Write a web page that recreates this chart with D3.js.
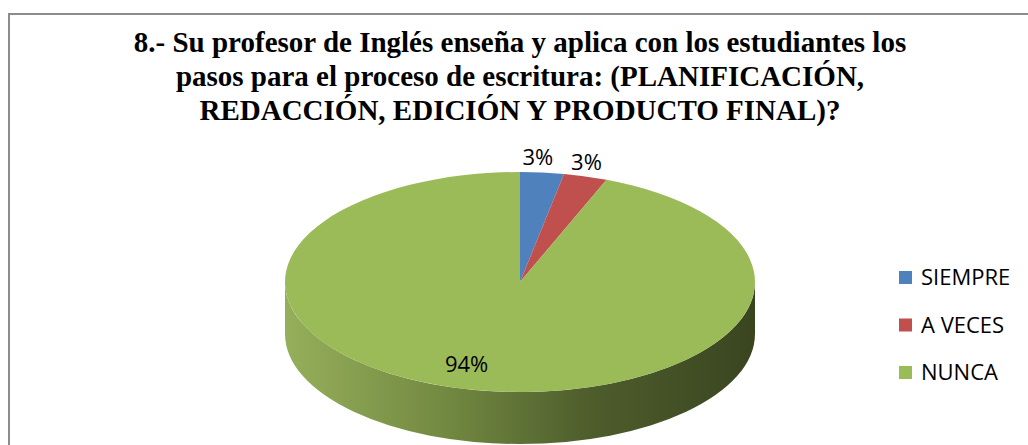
<!DOCTYPE html>
<meta charset="utf-8">
<head>
  <title>Pie 3D</title>
</head>
<style>
body { margin: 0; background: #fff; }
.title { font-family: "Liberation Serif", "Times New Roman", serif; font-weight: bold; font-size: 29px; fill: #000; }
.lbl { font-family: "Open Sans", "Noto Sans", sans-serif; font-size: 22px; fill: #000; }
</style>
<body>
<svg width="1028" height="445"></svg>
<script src="https://cdnjs.cloudflare.com/ajax/libs/d3/7.8.5/d3.min.js"></script>
<script>
var categories = ["SIEMPRE", "A VECES", "NUNCA"];
var values = [3, 3, 94];
var colors = ["#4F81BD", "#C0504D", "#9BBB59"];
var titleLines = [
  "8.- Su profesor de Inglés enseña y aplica con los estudiantes los",
  "pasos para el proceso de escritura: (PLANIFICACIÓN,",
  "REDACCIÓN, EDICIÓN Y PRODUCTO FINAL)?"
];

var svg = d3.select("svg");

// chart border (cropped on right and bottom)
svg.append("rect")
  .attr("x", 9).attr("y", 14)
  .attr("width", 1040).attr("height", 460)
  .attr("fill", "none").attr("stroke", "#8c8c8c").attr("stroke-width", 2);

svg.selectAll("text.title")
  .data(titleLines)
  .enter().append("text")
  .attr("class", "title")
  .attr("x", 520)
  .attr("y", function(d, i) { return 52 + i * 34; })
  .attr("text-anchor", "middle")
  .text(function(d) { return d; });

var cx = 520, cy = 282, rx = 235, ry = 110, depth = 52;

var pie = d3.pie().sort(null).value(function(d) { return d; });
var arcs = pie(values);

function pt(a, dy) {
  return [cx + rx * Math.sin(a), cy - ry * Math.cos(a) + (dy || 0)];
}

var defs = svg.append("defs");
var grad = defs.append("linearGradient")
  .attr("id", "side")
  .attr("gradientUnits", "userSpaceOnUse")
  .attr("x1", cx - rx).attr("x2", cx + rx)
  .attr("y1", 0).attr("y2", 0);
grad.append("stop").attr("offset", 0).attr("stop-color", "#96AF5B");
grad.append("stop").attr("offset", 0.35).attr("stop-color", "#718840");
grad.append("stop").attr("offset", 0.65).attr("stop-color", "#4E5D2C");
grad.append("stop").attr("offset", 1).attr("stop-color", "#3A4520");

// outer walls, only the front half (PI/2 .. 3PI/2) is visible
var g = svg.append("g");
arcs.forEach(function(d, i) {
  var a0 = Math.max(d.startAngle, Math.PI / 2);
  var a1 = Math.min(d.endAngle, 3 * Math.PI / 2);
  if (a1 <= a0) return;
  var p0 = pt(a0), p1 = pt(a1);
  var large = (a1 - a0) > Math.PI ? 1 : 0;
  var path = "M" + p0 + "L" + [p0[0], p0[1] + depth] +
    "A" + rx + "," + ry + " 0 " + large + " 1 " + [p1[0], p1[1] + depth] +
    "L" + p1 +
    "A" + rx + "," + ry + " 0 " + large + " 0 " + p0 + "Z";
  var fill = i === 2 ? "url(#side)" : d3.color(colors[i]).darker(1);
  g.append("path").attr("d", path).attr("fill", fill);
});

// top faces
g.selectAll("path.top")
  .data(arcs)
  .enter().append("path")
  .attr("class", "top")
  .attr("fill", function(d, i) { return colors[i]; })
  .attr("d", function(d) {
    var p0 = pt(d.startAngle), p1 = pt(d.endAngle);
    var large = (d.endAngle - d.startAngle) > Math.PI ? 1 : 0;
    return "M" + [cx, cy] + "L" + p0 +
      "A" + rx + "," + ry + " 0 " + large + " 1 " + p1 + "Z";
  });

// data labels: small slices outside, big slice inside
var total = d3.sum(values);
function labelPos(d) {
  var m = (d.startAngle + d.endAngle) / 2;
  var inside = d.data / total > 0.5;
  var k = inside ? 0.6 : 1.12;
  return [cx + rx * k * Math.sin(m) + (inside ? -27 : -7),
          cy - ry * k * Math.cos(m) + (inside ? 16 : -3)];
}
svg.selectAll("text.val")
  .data(arcs)
  .enter().append("text")
  .attr("class", "lbl")
  .attr("text-anchor", "middle")
  .attr("dominant-baseline", "central")
  .attr("x", function(d) { return labelPos(d)[0]; })
  .attr("y", function(d) { return labelPos(d)[1]; })
  .text(function(d) { return Math.round(d.data / total * 100) + "%"; });

// legend
var leg = svg.selectAll("g.leg")
  .data(categories)
  .enter().append("g")
  .attr("transform", function(d, i) { return "translate(899," + (271 + i * 47.5) + ")"; });
leg.append("rect")
  .attr("width", 13).attr("height", 13)
  .attr("fill", function(d, i) { return colors[i]; });
leg.append("text")
  .attr("class", "lbl")
  .attr("x", 22).attr("y", 14)
  .text(function(d) { return d; });
</script>
</body>
</html>
